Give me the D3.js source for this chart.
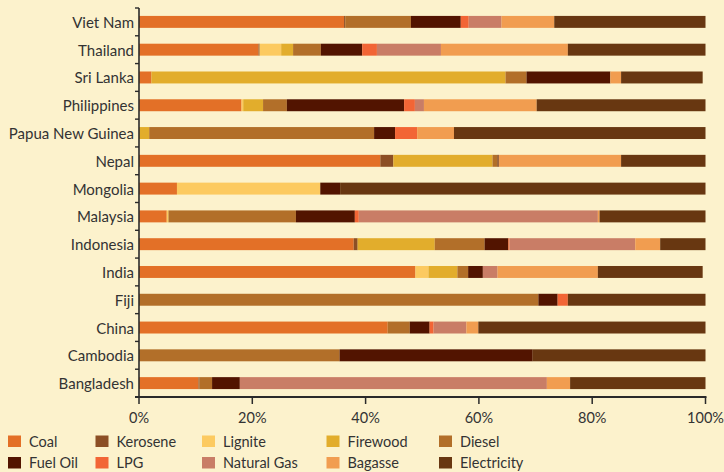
<!DOCTYPE html>
<html><head><meta charset="utf-8">
<script src="https://cdn.jsdelivr.net/npm/d3@7"></script>
<style>
html,body{margin:0;padding:0;background:#FCF2CC;}
svg{display:block;font-family:Lato,"Open Sans",sans-serif;}
</style></head>
<body><svg id="c" width="724" height="472"></svg>
<script>
const countries = ["Viet Nam","Thailand","Sri Lanka","Philippines","Papua New Guinea","Nepal","Mongolia","Malaysia","Indonesia","India","Fiji","China","Cambodia","Bangladesh"];
const fuels = ["Coal","Kerosene","Lignite","Firewood","Diesel","Fuel Oil","LPG","Natural Gas","Bagasse","Electricity"];
const colors = ["#E37027","#8C4F25","#FCCA60","#E2AD2C","#B26F29","#521400","#F26535","#C97D66","#F19D50","#683711"];
// values in % per country, in fuel order
const coal       = [36.2,21.1, 2.2,18.1, 0.0,42.6, 6.7, 4.9,37.9,48.8, 0.0,43.9, 0.0,10.5];
const kerosene   = [ 0.2, 0.2, 0.0, 0.0, 0.0, 2.3, 0.0, 0.0, 0.7, 0.0, 0.0, 0.0, 0.0, 0.2];
const lignite    = [ 0.0, 3.8, 0.0, 0.3, 0.0, 0.0,25.3, 0.3, 0.0, 2.3, 0.0, 0.0, 0.0, 0.0];
const firewood   = [ 0.0, 2.1,62.5, 3.5, 1.8,17.5, 0.0, 0.0,13.6, 5.1, 0.0, 0.0, 0.0, 0.0];
const diesel     = [11.6, 4.9, 3.7, 4.2,39.7, 0.9, 0.0,22.5, 8.8, 1.9,70.5, 3.9,35.4, 2.2];
const fuelOil    = [ 8.8, 7.3,14.8,20.7, 3.7, 0.2, 3.5,10.4, 4.2, 2.6, 3.4, 3.5,34.1, 4.9];
const lpg        = [ 1.4, 2.6, 0.0, 1.9, 3.9, 0.0, 0.0, 0.7, 0.2, 0.0, 1.8, 0.7, 0.0, 0.0];
const naturalGas = [ 5.8,11.3, 0.0, 1.6, 0.0, 0.0, 0.0,42.2,22.2, 2.6, 0.0, 5.8, 0.0,54.2];
const bagasse    = [ 9.3,22.4, 1.9,19.9, 6.5,21.6, 0.0, 0.3, 4.4,17.7, 0.0, 2.1, 0.0, 4.1];
const electricity= [26.7,24.3,14.4,29.8,44.4,14.9,64.5,18.7, 8.0,18.5,24.3,40.1,30.5,23.9];
const xTicks = [0,20,40,60,80,100];

const series = [coal,kerosene,lignite,firewood,diesel,fuelOil,lpg,naturalGas,bagasse,electricity];
const rows = countries.map((c,i)=>{const o={country:c}; fuels.forEach((f,j)=>o[f]=series[j][i]); return o;});

const svg = d3.select("#c");
const m = {left:139, right:705.5, top:8, bottom:397};
const x = d3.scaleLinear().domain([0,100]).range([m.left, m.right]);
const y = d3.scaleBand().domain(countries).range([m.top, m.bottom]).paddingInner(0.57).paddingOuter(0.285);
const color = d3.scaleOrdinal().domain(fuels).range(colors);

const stacked = d3.stack().keys(fuels)(rows);
svg.append("g").selectAll("g").data(stacked).join("g")
  .attr("fill", d=>color(d.key))
  .selectAll("rect").data(d=>d).join("rect")
  .attr("x", d=>x(d[0])).attr("width", d=>Math.max(0,x(d[1])-x(d[0])))
  .attr("y", d=>y(d.data.country)).attr("height", y.bandwidth());

// Left axis
const ax = svg.append("g").attr("stroke","#2a2a2a");
ax.append("line").attr("x1",m.left).attr("x2",m.left).attr("y1",m.top).attr("y2",m.bottom+1).attr("stroke-width",1.6);
const step = y.step();
const bounds = d3.range(countries.length+1).map(i=>m.top + i*step);
ax.selectAll(".yt").data(bounds).join("line")
  .attr("x1",m.left-4).attr("x2",m.left).attr("y1",d=>d).attr("y2",d=>d).attr("stroke-width",1.4);
svg.append("g").selectAll("text").data(countries).join("text")
  .attr("x", m.left-5).attr("y", d=>y(d)+y.bandwidth()/2)
  .attr("text-anchor","end").attr("dominant-baseline","central")
  .attr("font-size",15).attr("fill","#333").text(d=>d);

// Bottom axis
ax.append("line").attr("x1",m.left-4).attr("x2",m.right+1).attr("y1",m.bottom).attr("y2",m.bottom).attr("stroke-width",2);
ax.selectAll(".xt").data(xTicks).join("line")
  .attr("x1",d=>x(d)).attr("x2",d=>x(d)).attr("y1",m.bottom).attr("y2",m.bottom+7).attr("stroke-width",1.5);
svg.append("g").selectAll("text").data(xTicks).join("text")
  .attr("x", d=>x(d)).attr("y", 417).attr("text-anchor","middle").attr("dominant-baseline","central")
  .attr("font-size",14.5).attr("fill","#333").text(d=>d+"%");

// Legend
const legX = [8,95.5,202,326.5,439];
const legY = [441,462.5];
const lg = svg.append("g").selectAll("g").data(fuels).join("g")
  .attr("transform",(d,i)=>`translate(${legX[i%5]},${legY[Math.floor(i/5)]})`);
lg.append("rect").attr("x",0).attr("y",-5.5).attr("width",13).attr("height",11.5).attr("fill",d=>color(d));
lg.append("text").attr("x",21).attr("y",0).attr("dominant-baseline","central")
  .attr("font-size",14.5).attr("fill","#333").text(d=>d);
</script>
</body></html>
